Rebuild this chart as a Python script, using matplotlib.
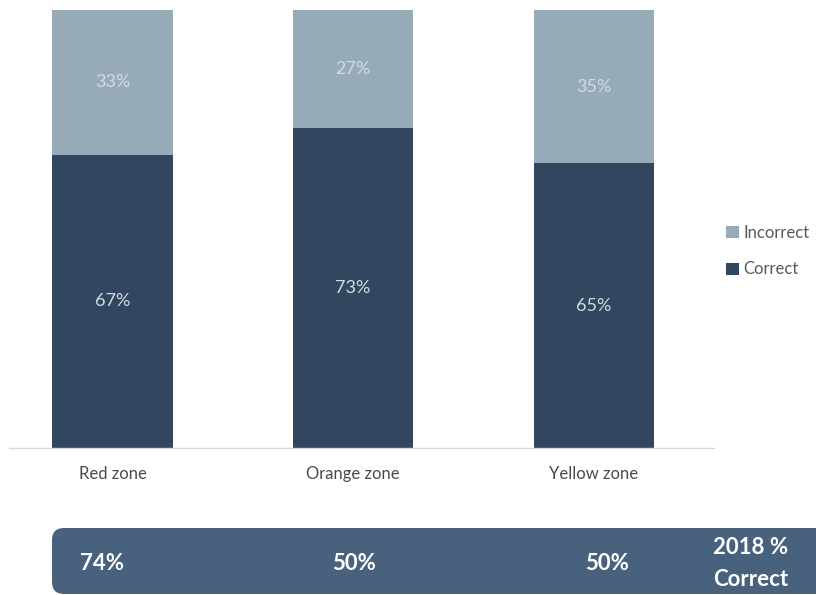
import matplotlib.pyplot as plt
import matplotlib.patches as patches
from matplotlib import rcParams

rcParams['font.family'] = ['Lato', 'DejaVu Sans']

DARK = '#33465f'
LIGHT = '#96aab8'
BANNER = '#48627d'
LABEL_IN = '#d3dae2'
TEXT = '#4a4a4a'

zones = ['Red zone', 'Orange zone', 'Yellow zone']
correct = [67, 73, 65]
incorrect = [33, 27, 35]
correct_2018 = ['74%', '50%', '50%']

DPI = 100
fig = plt.figure(figsize=(8.16, 5.95), dpi=DPI, facecolor='white')

ax = fig.add_axes([9 / 816, 147 / 595, 705 / 816, 438 / 595])
x = range(len(zones))
b1 = ax.bar(x, correct, width=0.5, color=DARK, label='Correct')
b2 = ax.bar(x, incorrect, width=0.5, bottom=correct, color=LIGHT, label='Incorrect')

for i in x:
    ax.text(i, correct[i] / 2, f'{correct[i]}%', color=LABEL_IN, fontsize=13,
            ha='center', va='center')
    ax.text(i, correct[i] + incorrect[i] / 2, f'{incorrect[i]}%', color=LABEL_IN,
            fontsize=13, ha='center', va='center')

ax.set_xlim(-0.43, 2.5)
ax.set_ylim(0, 100)
ax.set_xticks(list(x))
ax.set_xticklabels(zones, fontsize=12, color=TEXT)
ax.tick_params(axis='x', length=0, pad=13)
ax.set_yticks([])
for s in ['top', 'left', 'right']:
    ax.spines[s].set_visible(False)
ax.spines['bottom'].set_color('#d9d9d9')
ax.spines['bottom'].set_linewidth(1)

fig.legend(handles=[b2, b1], loc='center left', bbox_to_anchor=(726 / 816, 1 - 251 / 595),
           frameon=False, fontsize=12, labelcolor='#595959', handlelength=0.75,
           handleheight=0.75, handletextpad=0.3, labelspacing=1.25, borderpad=0,
           borderaxespad=0)

# banner with the 2018 figures, in pixel coordinates
ov = fig.add_axes([0, 0, 1, 1], facecolor='none')
ov.set_xlim(0, 816)
ov.set_ylim(595, 0)
ov.axis('off')
ov.add_patch(patches.FancyBboxPatch((52, 528), 800, 66, boxstyle='round,pad=0,rounding_size=12',
                                    facecolor=BANNER, edgecolor='none'))
for xp, val in zip([80, 332, 585], correct_2018):
    ov.text(xp, 564, val, color='white', fontsize=16, fontweight='bold', ha='left', va='center')
ov.text(751, 548, '2018 %', color='white', fontsize=16, fontweight='bold', ha='center', va='center')
ov.text(751, 579, 'Correct', color='white', fontsize=16, fontweight='bold', ha='center', va='center')

plt.savefig('out.png', dpi=DPI, facecolor='white')
plt.close()
